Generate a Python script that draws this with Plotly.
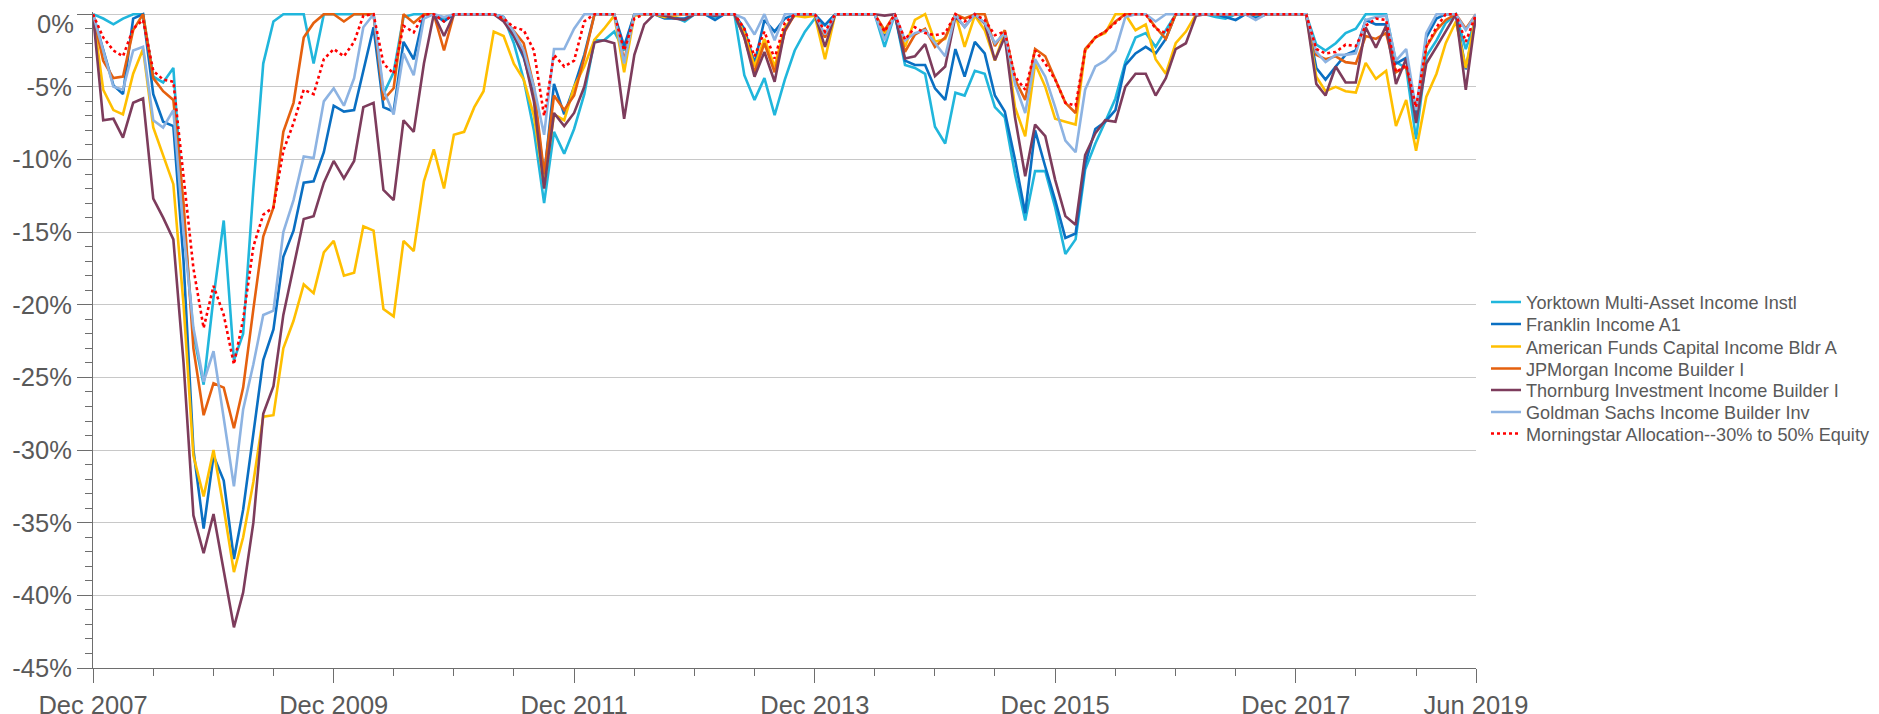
import plotly.graph_objects as go
import pandas as pd

# Monthly observations, Dec 2007 .. Jun 2019 (139 months)
months = pd.date_range("2007-12-01", periods=139, freq="MS").strftime("%Y-%m-%d").tolist()

yorktown = [
    0, -0.3, -0.7, -0.3, 0, 0, -4.3, -4.7, -3.7, -14, -22, -25.5,
    -19.5, -14.2, -23.8, -22.0, -12.0, -3.4, -0.5, 0, 0, 0, -3.4, 0,
    0, 0, 0, 0, 0, -5.5, -4.0, -0.2, 0, 0, 0, -0.3,
    0, 0, 0, 0, 0, -0.2, -2.0, -4.5, -8.0, -13.0, -8.1, -9.6,
    -7.9, -5.5, -1.8, -1.8, -1.2, -2.5, 0, 0, 0, -0.1, -0.2, -0.5,
    0, 0, -0.2, 0, 0, -4.2, -5.9, -4.4, -6.95, -4.5, -2.5, -1.2,
    -0.3, -0.75, 0, 0, 0, 0, 0, -2.25, 0, -3.5, -3.7, -4.1,
    -7.75, -8.9, -5.4, -5.6, -3.9, -4.1, -6.4, -7.1, -11.0, -14.2, -10.8, -10.8,
    -13.3, -16.5, -15.5, -10.7, -8.9, -7.4, -5.8, -3.3, -1.6, -1.3, -2.25, -1.1,
    0, 0, 0, 0, -0.2, -0.3, 0, 0, -0.2, 0, 0, 0,
    0, 0, -2.1, -2.5, -2.0, -1.3, -1.0, 0, 0, 0, -3.3, -3.7,
    -8.6, -2.9, -1.8, -0.6, 0, -2.4, -0.3,
]
franklin = [
    0, -2.5, -4.9, -5.5, -0.3, 0, -5.5, -7.4, -7.7, -17, -30, -35.4,
    -30.4, -32.1, -37.5, -34.1, -28.8, -23.8, -21.7, -16.7, -14.9, -11.6, -11.5, -9.5,
    -6.3, -6.7, -6.6, -3.8, -0.9, -6.4, -6.7, -1.9, -3.1, 0, 0, -0.5,
    0, 0, 0, 0, 0, -0.2, -1.5, -3.0, -5.5, -11.2, -4.8, -6.9,
    -5.0, -2.8, 0, 0, 0, -2.2, 0, 0, 0, -0.3, -0.3, -0.3,
    0, 0, -0.4, 0, 0, -1.0, -3.4, -0.4, -1.2, -0.3, 0, 0,
    0, -0.75, 0, 0, 0, 0, 0, -1.6, 0, -3.2, -3.5, -3.5,
    -5.1, -5.9, -2.4, -4.3, -1.9, -2.7, -5.6, -6.7, -10.0, -13.7, -8.0, -10.5,
    -12.8, -15.4, -15.1, -10.3, -7.9, -7.4, -6.6, -3.5, -2.7, -2.25, -2.7, -1.7,
    0, 0, 0, 0, 0, -0.2, -0.4, 0, -0.3, 0, 0, 0,
    0, 0, -3.7, -4.5, -3.6, -2.8, -2.5, -0.4, -0.7, -0.7, -3.4, -3.0,
    -7.2, -1.6, -0.3, 0, 0, -3.8, -0.2,
]
american = [
    0, -5.2, -6.6, -6.9, -4.1, -2.4, -7.8, -9.7, -11.7, -20, -30.4, -33.2,
    -30.0, -34.0, -38.4, -36.0, -32.2, -27.7, -27.6, -23.0, -21.1, -18.6, -19.2, -16.4,
    -15.6, -18.0, -17.8, -14.6, -14.9, -20.3, -20.8, -15.6, -16.3, -11.5, -9.3, -12.0,
    -8.3, -8.1, -6.4, -5.3, -1.2, -1.5, -3.4, -4.5, -7.0, -11.8, -6.9, -7.3,
    -5.0, -3.6, -1.75, -1.0, -0.1, -4.0, -0.1, 0, 0, -0.2, -0.1, 0,
    0, 0, 0, 0, 0, -1.3, -3.6, -1.7, -3.6, -0.9, -0.1, -0.2,
    -0.1, -3.1, 0, 0, 0, 0, 0, -1.3, 0, -2.25, -0.4, 0,
    -1.9, -1.7, 0, -2.25, -0.1, -1.1, -3.2, -1.2, -6.4, -8.4, -3.4, -5.0,
    -7.2, -7.4, -7.6, -2.5, -1.6, -1.3, 0, 0, -1.1, -0.7, -3.1, -4.1,
    -2.0, -1.2, 0, 0, 0, 0, 0, 0, 0, 0, 0, 0,
    0, 0, -4.3, -5.3, -5.0, -5.3, -5.4, -3.35, -4.45, -3.9, -7.7, -5.9,
    -9.4, -5.7, -4.1, -2.0, -0.5, -3.7, 0,
]
jpmorgan = [
    0, -3.2, -4.4, -4.3, -1.1, 0, -4.4, -5.3, -5.9, -13, -23, -27.6,
    -25.4, -25.7, -28.5, -25.7, -20.3, -15.3, -13.3, -8.1, -6.1, -1.6, -0.6, 0,
    0, -0.5, 0, 0, 0, -5.9, -5.1, 0, -0.6, 0, 0, -2.5,
    0, 0, 0, 0, 0, -0.3, -1.2, -2.0, -5.0, -11.0, -5.6, -6.6,
    -5.6, -3.0, 0, 0, 0, -3.2, 0, 0, 0, 0, 0, 0,
    0, 0, 0, 0, 0, -1.6, -4.0, -2.0, -4.0, -1.2, 0, 0,
    0, -1.6, 0, 0, 0, 0, 0, -1.1, 0, -2.6, -1.4, -1.0,
    -2.25, -1.6, 0, -0.3, 0, 0, -2.2, -1.1, -4.5, -5.9, -2.4, -2.9,
    -4.5, -6.1, -6.8, -2.4, -1.6, -1.2, -0.5, 0, 0, 0, -0.9, -1.7,
    0, 0, 0, 0, 0, 0, 0, 0, 0, 0, 0, 0,
    0, 0, -2.8, -3.1, -2.9, -3.3, -3.4, -1.5, -1.7, -1.3, -4.0, -3.6,
    -6.6, -2.25, -1.1, -0.4, 0, -1.0, 0,
]
thornburg = [
    0, -7.3, -7.2, -8.5, -6.1, -5.8, -12.7, -14.0, -15.5, -24, -34.5, -37.1,
    -34.4, -38.3, -42.2, -39.8, -35.0, -27.5, -25.6, -20.7, -17.3, -14.1, -13.9, -11.6,
    -10.1, -11.3, -10.1, -6.4, -6.1, -12.1, -12.8, -7.3, -8.1, -3.4, 0, -1.5,
    0, 0, 0, 0, 0, -0.5, -1.5, -2.8, -6.0, -12.0, -6.8, -7.7,
    -6.8, -5.0, -1.95, -1.8, -2.0, -7.2, -2.8, -0.7, 0, -0.1, -0.3, -0.4,
    0, 0, -0.1, 0, 0, -1.6, -4.3, -2.6, -4.65, -1.1, 0, 0,
    0, -2.25, 0, 0, 0, 0, 0, -0.1, 0, -3.05, -2.9, -2.06,
    -4.27, -3.6, -0.14, -0.87, 0, -0.64, -3.17, -1.56, -7.1, -11.15, -7.6, -8.4,
    -11.4, -13.9, -14.5, -9.7, -8.2, -7.3, -7.4, -5.0, -4.1, -4.1, -5.6, -4.4,
    -2.4, -2.0, -0.1, 0, 0, 0, 0, 0, 0, 0, 0, 0,
    0, 0, -4.8, -5.6, -3.6, -4.7, -4.7, -0.9, -2.3, -0.8, -4.8, -3.05,
    -7.5, -3.4, -2.25, -1.2, 0, -5.2, 0,
]
goldman = [
    0, -2.5, -5.0, -5.2, -2.5, -2.25, -7.3, -7.8, -6.6, -15, -21.6, -25.3,
    -23.2, -27.8, -32.5, -27.2, -24.1, -20.7, -20.4, -15.0, -12.8, -9.8, -9.9, -6.0,
    -5.1, -6.3, -4.4, -0.9, 0, -5.2, -6.9, -2.7, -4.2, -0.3, 0, -0.2,
    0, 0, 0, 0, 0, -0.2, -1.2, -2.5, -5.0, -8.3, -2.4, -2.4,
    -1.0, 0, 0, 0, 0, -3.4, 0, 0, 0, 0, 0, 0,
    0, 0, 0, 0, 0, -0.3, -1.4, 0, -1.8, 0, 0, 0,
    0, -1.4, 0, 0, 0, 0, 0, -1.8, 0, -1.8, -1.3, -1.1,
    -2.0, -2.9, 0, -0.9, 0, -0.6, -2.0, -1.3, -4.8, -6.8, -3.1, -4.3,
    -6.4, -8.7, -9.5, -5.2, -3.6, -3.2, -2.5, -0.2, 0, 0, -0.5, 0,
    0, 0, 0, 0, 0, 0, 0, 0, -0.4, 0, 0, 0,
    0, 0, -2.6, -3.3, -2.8, -2.8, -2.7, -0.4, -0.2, -0.1, -3.2, -2.4,
    -6.6, -1.3, 0, 0, 0, -1.1, 0,
]
morningstar = [
    0, -1.6, -2.5, -2.9, -1.0, -0.4, -3.9, -4.5, -4.65, -11, -17.5, -21.6,
    -18.7, -20.7, -24.1, -21.0, -16.0, -13.8, -13.3, -9.4, -7.5, -5.2, -5.5, -3.1,
    -2.4, -2.9, -1.9, -0.1, 0, -3.4, -4.1, -0.8, -1.25, 0, 0, -0.5,
    0, 0, 0, 0, 0, -0.3, -0.9, -1.1, -2.5, -7.0, -2.8, -3.6,
    -3.2, -0.5, 0, 0, 0, -2.5, -0.3, 0, 0, 0, 0, 0,
    0, 0, 0, 0, 0, -1.0, -2.9, -1.2, -3.05, -0.6, 0, 0,
    0, -1.2, 0, 0, 0, 0, 0, -1.2, 0, -1.75, -0.9, -1.3,
    -1.45, -1.3, 0, -0.5, 0, -0.4, -1.45, -1.2, -4.3, -5.2, -2.5, -3.4,
    -4.5, -6.1, -6.3, -2.5, -1.6, -1.2, -0.6, 0, 0, 0, -1.0, -1.3,
    0, 0, 0, 0, 0, 0, 0, 0, 0, 0, 0, 0,
    0, 0, -2.4, -2.7, -2.6, -2.1, -2.2, -0.8, -0.3, -0.4, -4.0, -3.5,
    -6.4, -2.25, -0.9, 0, 0, -1.9, 0,
]

series_names = [
    "Yorktown Multi-Asset Income Instl",
    "Franklin Income A1",
    "American Funds Capital Income Bldr A",
    "JPMorgan Income Builder I",
    "Thornburg Investment Income Builder I",
    "Goldman Sachs Income Builder Inv",
    "Morningstar Allocation--30% to 50% Equity",
]
series_values = [yorktown, franklin, american, jpmorgan, thornburg, goldman, morningstar]
series_colors = ["#20B6DC", "#0A6FC2", "#FFBF00", "#E5600E", "#7D3C5C", "#8DB3E2", "#FF0000"]
series_dash = ["solid"] * 6 + ["dot"]

y_tick_values = [0, -5, -10, -15, -20, -25, -30, -35, -40, -45]
y_tick_labels = ["0%", "-5%", "-10%", "-15%", "-20%", "-25%", "-30%", "-35%", "-40%", "-45%"]
x_tick_values = ["2007-12-01", "2009-12-01", "2011-12-01", "2013-12-01", "2015-12-01", "2017-12-01", "2019-06-01"]
x_tick_labels = ["Dec 2007", "Dec 2009", "Dec 2011", "Dec 2013", "Dec 2015", "Dec 2017", "Jun 2019"]

FONT = "Arial, Liberation Sans, sans-serif"
TXT = "#595959"
AXC = "#6e6e6e"
TICK_SIZE = 25.5

# the page body adds an 8px offset; the figure is sized to end at the window edge
OFF = 8
W, H = 1879 - OFF, 714 - OFF
ML = 93 - OFF
MT = 12 - OFF
PLOT_BOTTOM = 668 - OFF
PLOT_RIGHT = 1476 - OFF
MB = H - PLOT_BOTTOM
MR = W - PLOT_RIGHT
PW = W - ML - MR
PH = H - MT - MB

fig = go.Figure()
legend_ids = ["legend"] + ["legend%d" % i for i in range(2, 8)]
for name, vals, col, dash, lid in zip(series_names, series_values, series_colors, series_dash, legend_ids):
    fig.add_trace(go.Scatter(
        x=months, y=vals, name=name, mode="lines",
        line=dict(color=col, width=2.6, dash=dash),
        legend=lid,
    ))

# one legend per entry so that the row spacing matches the reference
row_centers = [305, 327, 349.5, 371.5, 393, 415, 436.5]
LEG_SIZE = 18.1
legend_font = dict(family=FONT, size=LEG_SIZE, color=TXT)
item_h = LEG_SIZE * 1.3 + 3
leg_layout = {}
for lid, yc in zip(legend_ids, row_centers):
    top_px = yc - OFF - 3 - (5 + item_h / 2)
    leg_layout[lid] = dict(
        x=(1486 - OFF - ML) / PW, xanchor="left",
        y=(PLOT_BOTTOM - top_px) / PH, yanchor="top",
        font=legend_font, bgcolor="rgba(0,0,0,0)", borderwidth=0,
        itemwidth=30,
    )

minor_y = [v for v in range(-45, 1) if v % 5 != 0]

# the top label sits just below its gridline (as in the reference), so it is
# written as an annotation and the regular tick label for it is left empty
axis_ticktext = [""] + y_tick_labels[1:]

fig.update_layout(
    width=W, height=H,
    margin=dict(l=ML, r=MR, t=MT, b=MB, autoexpand=False),
    paper_bgcolor="white", plot_bgcolor="white",
    font=dict(family=FONT, color=TXT),
    showlegend=True,
    **leg_layout,
    xaxis=dict(
        type="date",
        range=["2007-12-01", "2019-06-01"],
        tickmode="array", tickvals=x_tick_values, ticktext=x_tick_labels,
        ticks="outside", ticklen=14, tickwidth=1, tickcolor=AXC,
        tickfont=dict(family=FONT, size=TICK_SIZE, color=TXT),
        ticklabeloverflow="allow",
        showline=True, linecolor=AXC, linewidth=1,
        showgrid=False, zeroline=False,
        minor=dict(tickmode="linear", tick0="2007-12-01", dtick="M6",
                   ticks="outside", ticklen=7, tickwidth=1, tickcolor=AXC, showgrid=False),
    ),
    yaxis=dict(
        range=[-45, 0.15],
        tickmode="array", tickvals=y_tick_values, ticktext=axis_ticktext,
        ticks="outside", ticklen=15, tickwidth=1, tickcolor=AXC,
        tickfont=dict(family=FONT, size=TICK_SIZE, color=TXT),
        ticklabeloverflow="allow",
        showline=True, linecolor=AXC, linewidth=1,
        showgrid=True, gridcolor="#C8C8C8", gridwidth=1,
        zeroline=False,
        minor=dict(tickmode="array", tickvals=minor_y,
                   ticks="outside", ticklen=7, tickwidth=1, tickcolor=AXC, showgrid=False),
    ),
    annotations=[dict(
        text=y_tick_labels[0], xref="paper", yref="y",
        x=0, y=y_tick_values[0], xanchor="right", yanchor="middle",
        xshift=-17, yshift=-10, showarrow=False,
        font=dict(family=FONT, size=TICK_SIZE, color=TXT),
    )],
)

fig.write_html("out.html")
